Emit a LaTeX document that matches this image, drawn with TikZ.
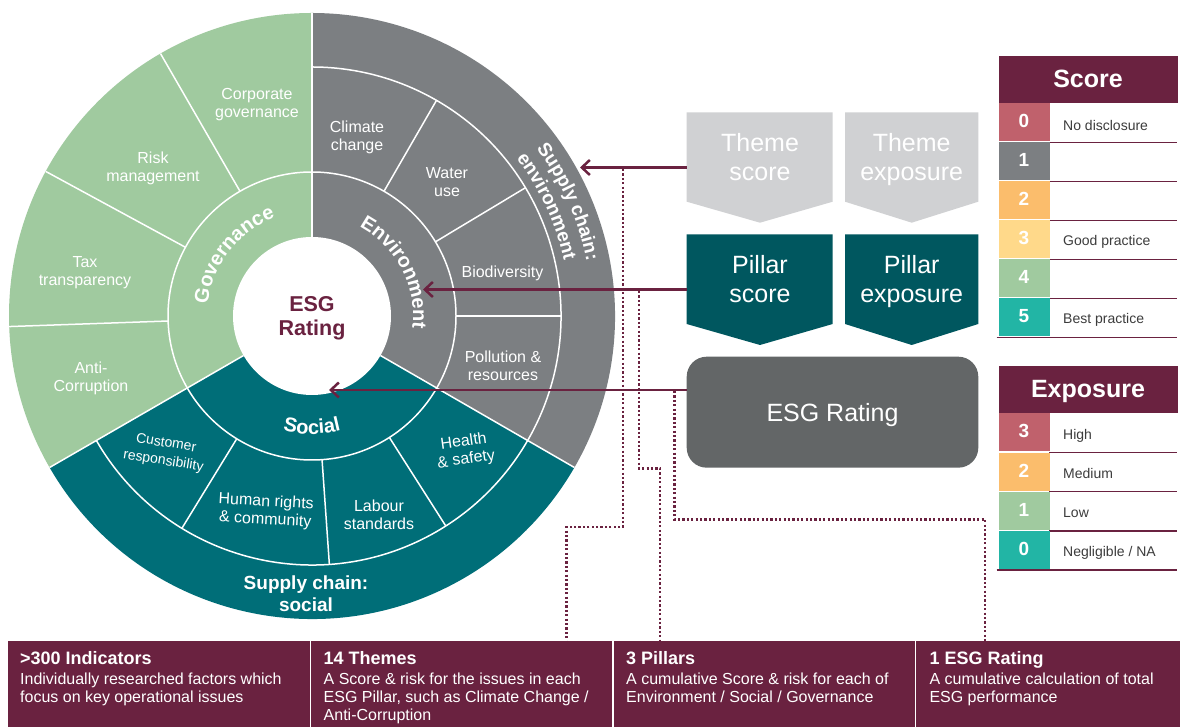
\documentclass[tikz,border=0pt]{standalone}
\usepackage{fontspec}
\setmainfont{Liberation Sans}
\usetikzlibrary{arrows.meta,decorations.text}
\definecolor{govgreen}{HTML}{A0CA9F}
\definecolor{envgrey}{HTML}{7C7F82}
\definecolor{socteal}{HTML}{006E78}
\definecolor{maroon}{HTML}{6A2240}
\definecolor{themegrey}{HTML}{D0D1D3}
\definecolor{pillarteal}{HTML}{00575F}
\definecolor{ratinggrey}{HTML}{636667}
\definecolor{sczero}{HTML}{C0616C}
\definecolor{scone}{HTML}{7C7F82}
\definecolor{sctwo}{HTML}{FBBD6C}
\definecolor{scthree}{HTML}{FFD98A}
\definecolor{scfour}{HTML}{A0CA9F}
\definecolor{scfive}{HTML}{22B5A5}
\definecolor{labelgrey}{HTML}{3C3C3C}
\newcommand\curvefont{\fontsize{20}{20}\selectfont\bfseries\color{white}}
\newcommand\supplyfont{\fontsize{19}{19}\selectfont\bfseries\color{white}}
\begin{document}
\begin{tikzpicture}[x=1pt,y=1pt,
  wline/.style={white,line width=1.5pt},
  wlab/.style={text=white,font=\fontsize{16}{18}\selectfont,align=center,inner sep=0pt},
  boxtext/.style={text=white,font=\fontsize{25}{29}\selectfont,align=center,inner sep=0pt},
  arrowline/.style={maroon,line width=2.5pt,-{Straight Barb[length=8pt,width=15pt]}},
  dotline/.style={maroon,line width=2.5pt,dash pattern=on 2.2pt off 2.2pt},
  infobox/.style={fill=maroon,draw=none,anchor=south west,inner sep=0pt},
  infotitle/.style={text=white,font=\fontsize{18}{20}\selectfont\bfseries,anchor=base west,inner sep=0pt},
  infobody/.style={text=white,font=\fontsize{16}{18}\selectfont,anchor=base west,inner sep=0pt},
  tabhead/.style={fill=maroon,draw=none,anchor=north west,inner sep=0pt,minimum width=179pt,minimum height=47.6pt,text=white,font=\fontsize{25}{25}\selectfont\bfseries,text height=16pt,text depth=0pt},
  cell/.style={anchor=north west,inner sep=0pt,minimum width=51pt,minimum height=38pt,text=white,font=\fontsize{19}{19}\selectfont\bfseries,text height=11pt,text depth=0pt},
  tablbl/.style={anchor=west,inner sep=0pt,text=labelgrey,font=\fontsize{14}{16}\selectfont},
  rowline/.style={maroon,line width=1.5pt}]
\useasboundingbox (0,0) rectangle (1180,727);
\fill[white] (0,0) rectangle (1180,727);

% ---------------- wheel ----------------
\begin{scope}[shift={(312,411)}]
  \fill[govgreen] (0,0) -- (90:303) arc[start angle=90,end angle=210,radius=303] -- cycle;
  \fill[envgrey] (0,0) -- (-30:303) arc[start angle=-30,end angle=90,radius=303] -- cycle;
  \fill[socteal] (0,0) -- (210:303) arc[start angle=210,end angle=330,radius=303] -- cycle;
  \draw[wline] (0,0) circle[radius=144];
  \draw[wline] (-30:249) arc[start angle=-30,end angle=90,radius=249];
  \draw[wline] (210:249) arc[start angle=210,end angle=330,radius=249];
  \foreach \a in {90,210,330} \draw[wline] (\a:79) -- (\a:303);
  \foreach \a in {120,151.5,182} \draw[wline] (\a:144) -- (\a:303);
  \foreach \a in {60,31,0} \draw[wline] (\a:144) -- (\a:249);
  \foreach \a in {238.5,274,302.5} \draw[wline] (\a:144) -- (\a:249);
  \fill[white] (0,0) circle[radius=79];
  \coordinate (C) at (0,0);
  \node[text=maroon,font=\fontsize{21.5}{24}\selectfont\bfseries,align=center,inner sep=0pt] (esgcenter) at (0,-2) {ESG\\Rating};

  % theme labels
  \node[wlab] (cg) at (-55,211) {Corporate\\governance};
  \node[wlab] (rm) at (-159,148) {Risk\\management};
  \node[wlab] (tt) at (-227,43) {Tax\\transparency};
  \node[wlab] (ac) at (-221,-62) {Anti-\\Corruption};
  \node[wlab] (cc) at (45,178.4) {Climate\\change};
  \node[wlab] (wu) at (135,134) {Water\\use};
  \node[wlab] (bio) at (190.5,43) {Biodiversity};
  \node[wlab] (pr) at (191,-50) {Pollution \&\\resources};
  \node[wlab,rotate=8] (hs) at (153,-135) {Health\\\& safety};
  \node[wlab] (ls) at (67,-199) {Labour\\standards};
  \node[wlab,rotate=-3] (hr) at (-46.3,-195.2) {Human rights\\\& community};
  \node[wlab,rotate=-9,font=\fontsize{14}{18}\selectfont] (cr) at (-147.3,-136.5) {Customer\\responsibility};

  % pillar labels (curved)
  \path[decorate,decoration={text along path,text align=center,text={|\curvefont|Governance}}]
     (182:105) arc[start angle=182,end angle=102,radius=105];
  \path[decorate,decoration={text along path,text align=center,text={|\curvefont|Environment}}]
     (67.5:101) arc[start angle=67.5,end angle=-12.5,radius=101];
  \path[decorate,decoration={text along path,text align=center,text={|\curvefont|Social}}]
     (240:118) arc[start angle=240,end angle=300,radius=118];
  \path[decorate,decoration={text along path,text align=center,text={|\supplyfont|Supply chain:}}]
     (54:280) arc[start angle=54,end angle=-6,radius=280];
  \path[decorate,decoration={text along path,text align=center,text={|\supplyfont|environment}}]
     (55:258) arc[start angle=55,end angle=-5,radius=258];
  \node[text=white,font=\fontsize{19}{22}\selectfont\bfseries,align=center,inner sep=0pt] (scsocial) at (-6,-278) {Supply chain:\\social};
\end{scope}

% ---------------- right boxes ----------------
\fill[themegrey] (686.7,614.7) -- (832.7,614.7) -- (832.7,525.3) -- (760,504.3) -- (686.7,525.3) -- cycle;
\fill[themegrey] (845,614.7) -- (978.3,614.7) -- (978.3,525.3) -- (911.7,504.3) -- (845,525.3) -- cycle;
\node[boxtext] (tscore) at (760,567.8) {Theme\\score\vphantom{p}};
\node[boxtext] (texp) at (911.7,567.8) {Theme\\exposure};
\fill[pillarteal] (686.7,492.7) -- (832.7,492.7) -- (832.7,403) -- (760,382) -- (686.7,403) -- cycle;
\fill[pillarteal] (845,492.7) -- (978.3,492.7) -- (978.3,403) -- (911.7,382) -- (845,403) -- cycle;
\node[boxtext] (pscore) at (760,445.5) {Pillar\\score\vphantom{p}};
\node[boxtext] (pexp) at (911.7,445.5) {Pillar\\exposure};
\node[fill=ratinggrey,rounded corners=20pt,minimum width=291.6pt,minimum height=111pt,inner sep=0pt] (esgbox) at (832.5,314.8) {};
\node[text=white,font=\fontsize{25}{29}\selectfont,inner sep=0pt] (esglabel) at (832.5,311.8) {ESG Rating};

% ---------------- arrows ----------------
\coordinate (a1s) at (686.7,559.5); \coordinate (a1e) at (580,559.5);
\coordinate (a2s) at (686.7,437.5); \coordinate (a2e) at (423,437.5);
\coordinate (a3s) at (686.7,337);   \coordinate (a3e) at (329,337);
\draw[arrowline] (a1s) -- (a1e);
\draw[arrowline] (a2s) -- (a2e);
\draw[arrowline] (a3s) -- (a3e);

% ---------------- bottom boxes ----------------
\node[infobox,minimum width=302pt,minimum height=85.3pt] (ib1) at (7.3,0) {};
\node[infobox,minimum width=301.2pt,minimum height=85.3pt] (ib2) at (310.8,0) {};
\node[infobox,minimum width=301pt,minimum height=85.3pt] (ib3) at (613.5,0) {};
\node[infobox,minimum width=264pt,minimum height=85.3pt] (ib4) at (916,0) {};

\node[infotitle] (t1) at (20,62.7) {>300 Indicators};
\node[infobody] (t1a) at (20,42) {Individually researched factors which};
\node[infobody] (t1b) at (20,24) {focus on key operational issues};
\node[infotitle] (t2) at (323.5,62.7) {14 Themes};
\node[infobody] (t2a) at (323.5,42) {A Score \& risk for the issues in each};
\node[infobody] (t2b) at (323.5,24) {ESG Pillar, such as Climate Change /};
\node[infobody] (t2c) at (323.5,6) {Anti-Corruption};
\node[infotitle] (t3) at (626,62.7) {3 Pillars};
\node[infobody] (t3a) at (626,42) {A cumulative Score \& risk for each of};
\node[infobody] (t3b) at (626,24) {Environment / Social / Governance};
\node[infotitle] (t4) at (929.3,62.7) {1 ESG Rating};
\node[infobody] (t4a) at (929.3,42) {A cumulative calculation of total};
\node[infobody] (t4b) at (929.3,24) {ESG performance};

% ---------------- dotted connectors ----------------
\coordinate (d1s) at (623,558);
\coordinate (d2s) at (639,436);
\coordinate (d3s) at (674.3,336);
\draw[dotline] (d1s) -- (623,200) -- (566.7,200) -- (566.7,85.3);
\draw[dotline] (d2s) -- (639,258.7) -- (660,258.7) -- (660,85.3);
\draw[dotline] (d3s) -- (674.3,207.7) -- (985,207.7) -- (985,85.3);

% ---------------- score table ----------------
\node[tabhead] (scorehead) at (998.3,671.3) {Score};
\foreach \c/\n [count=\i from 0] in {sczero/0,scone/1,sctwo/2,scthree/3,scfour/4,scfive/5}{
  \node[cell,fill=\c] (sc\n) at (998.3,623.7-39*\i) {\n};
  \draw[rowline] (1049.3,584.7-39*\i) -- (1177.3,584.7-39*\i);
}
\draw[rowline] (996.5,389.7) -- (1177.3,389.7);
\node[tablbl] (l0) at (1063,601.5) {No disclosure};
\node[tablbl] (l3) at (1063,485.2) {Good practice};
\node[tablbl] (l5) at (1063,407.2) {Best practice};

% ---------------- exposure table ----------------
\node[tabhead] (exphead) at (998.3,361.3) {Exposure};
\foreach \c/\n [count=\i from 0] in {sczero/3,sctwo/2,scfour/1,scfive/0}{
  \node[cell,fill=\c] (ex\n) at (998.3,313.7-39.2*\i) {\n};
  \draw[rowline] (1049.3,274.5-39.2*\i) -- (1177.3,274.5-39.2*\i);
}
\draw[rowline] (996.5,156.9) -- (1177.3,156.9);
\node[tablbl] (e3) at (1063,291.5) {High};
\node[tablbl] (e2) at (1063,253) {Medium};
\node[tablbl] (e1) at (1063,213.8) {Low};
\node[tablbl] (e0) at (1063,174.6) {Negligible / NA};
\end{tikzpicture}
\end{document}
